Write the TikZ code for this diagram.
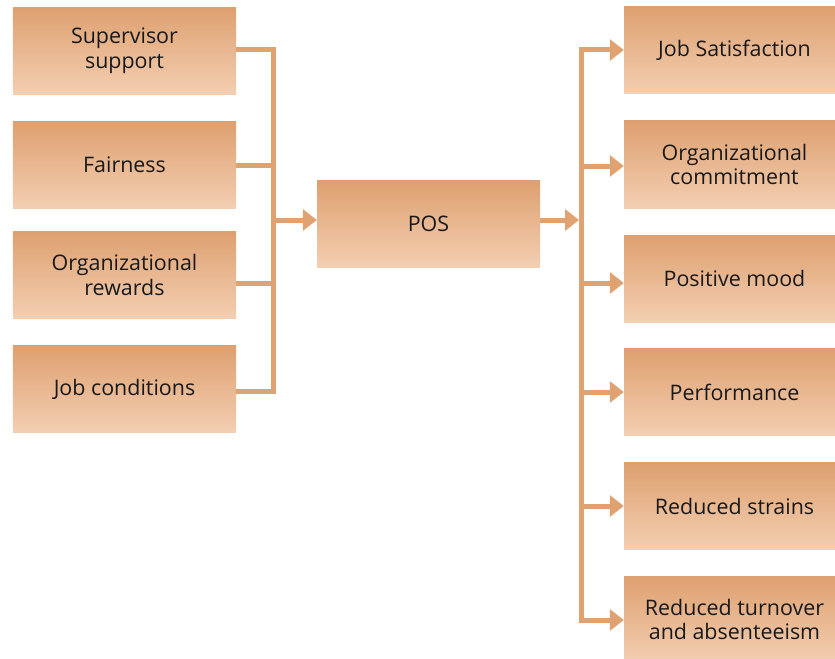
\documentclass[tikz,border=0pt]{standalone}
\usepackage{fontspec}
\setmainfont{Open Sans}
\usetikzlibrary{arrows.meta}
\definecolor{boxtop}{RGB}{222,160,112}
\definecolor{boxbot}{RGB}{243,207,178}
\definecolor{linkc}{RGB}{224,162,112}
\begin{document}
\begin{tikzpicture}[x=1bp,y=-1bp,
  box/.style={rectangle, top color=boxtop, bottom color=boxbot, draw=none,
    minimum height=87bp, inner sep=0pt, align=center,
    font=\fontsize{21.5}{25}\selectfont, text=black!90},
  lbox/.style={box, minimum width=223bp},
  rbox/.style={box, minimum width=221bp},
  link/.style={draw=linkc, line width=5bp, line join=miter},
  arr/.style={link, -{Triangle[length=14bp,width=21bp]}}]
\useasboundingbox (0,0) rectangle (835,659);

% antecedents
\node[lbox] (s1) at (124.5,51)  {Supervisor\\support};
\node[lbox] (s2) at (124.5,165) {Fairness};
\node[lbox] (s3) at (124.5,275) {Organizational\\rewards};
\node[lbox] (s4) at (124.5,389) {Job conditions};

% central construct
\node[lbox] (pos) at (428.5,224) {POS};

% outcomes
\node[rbox] (o1) at (734.5,50.5)  {Job Satisfaction};
\node[rbox] (o2) at (734.5,164.5) {Organizational\\commitment};
\node[rbox] (o3) at (734.5,278.5) {Positive mood};
\node[rbox] (o4) at (734.5,392)   {Performance};
\node[rbox] (o5) at (734.5,506)   {Reduced strains};
\node[rbox] (o6) at (734.5,619.5) {Reduced turnover\\and absenteeism};

% bus points
\coordinate (inTop) at (273,50);
\coordinate (in2)   at (273,165);
\coordinate (in3)   at (273,283);
\coordinate (inBot) at (273,391);
\coordinate (inMid) at (273,220);
\coordinate (outMid) at (579,220);
\coordinate (outTop) at (581,50);
\coordinate (out2)   at (581,166);
\coordinate (out3)   at (581,283);
\coordinate (out4)   at (581,392);
\coordinate (out5)   at (581,506);
\coordinate (outBot) at (581,620);

% left collector
\draw[link] (s1.east |- inTop) -- (inTop) -- (inBot) -- (s4.east |- inBot);
\draw[link] (s2.east |- in2) -- (in2);
\draw[link] (s3.east |- in3) -- (in3);
\draw[arr] (inMid) -- (pos.west |- inMid);

% right distributor
\draw[arr] (pos.east |- outMid) -- (outMid);
\draw[link, line cap=rect] (outTop) -- (outBot);
\draw[arr] (outTop) -- (o1.west |- outTop);
\draw[arr] (out2) -- (o2.west |- out2);
\draw[arr] (out3) -- (o3.west |- out3);
\draw[arr] (out4) -- (o4.west |- out4);
\draw[arr] (out5) -- (o5.west |- out5);
\draw[arr] (outBot) -- (o6.west |- outBot);
\end{tikzpicture}
\end{document}
